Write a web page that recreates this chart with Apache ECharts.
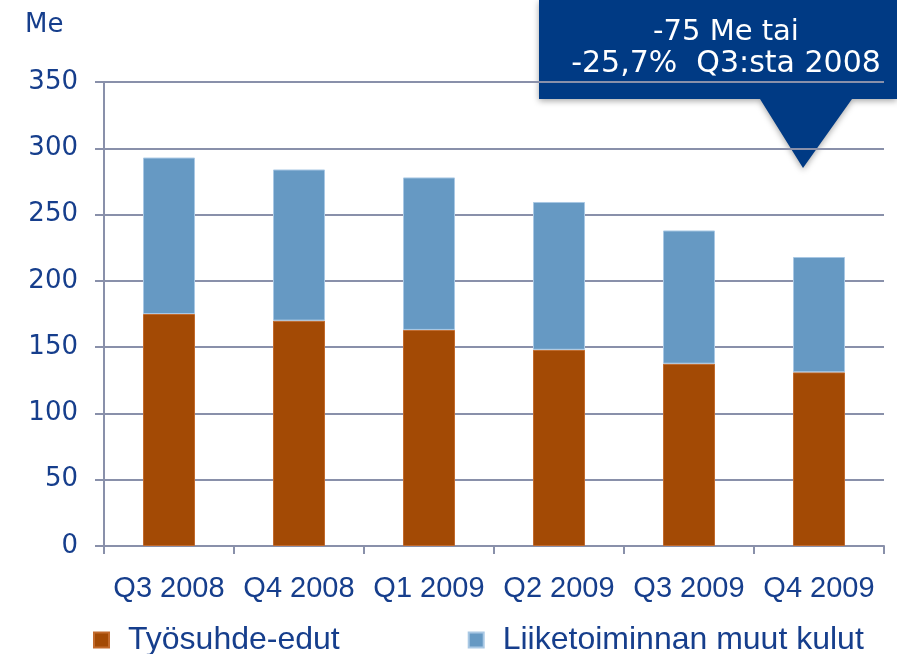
<!DOCTYPE html>
<html>
<head>
<meta charset="utf-8">
<script src="https://cdn.jsdelivr.net/npm/echarts@6/dist/echarts.min.js"></script>
<style>
  html, body { margin: 0; padding: 0; background: #fff; }
  #root { width: 897px; height: 654px; }
</style>
</head>
<body>
<div id="root"></div>
<script>
  // data
  const quarters = ['Q3 2008', 'Q4 2008', 'Q1 2009', 'Q2 2009', 'Q3 2009', 'Q4 2009']
  const tyosuhde = [175, 170, 163, 148, 137.5, 131]
  const muutKulut = [118, 114, 115, 111.5, 100.5, 87]
  const yTicks = { min: 0, max: 350, interval: 50 }
  const calloutLines = ['-75 Me tai', '-25,7%  Q3:sta 2008']

  const navy = '#163e8c'
  const gridCol = '#8990aa'

  const chart = echarts.init(document.getElementById('root'))

  const option = {
    animation: false,
    title: {
      text: 'Me',
      left: 20,
      top: 7,
      textStyle: { color: navy, fontFamily: 'DejaVu Sans', fontSize: 26, fontWeight: 'normal' }
    },
    grid: { left: 104, right: 13, top: 82, bottom: 108 },
    legend: {
      left: 88,
      top: 619,
      icon: 'rect',
      itemWidth: 15,
      itemHeight: 15,
      itemGap: 128,
      textStyle: { color: navy, fontFamily: 'Liberation Sans', fontSize: 32, padding: [0, 0, 0, 14] },
      data: ['Työsuhde-edut', 'Liiketoiminnan muut kulut']
    },
    xAxis: {
      type: 'category',
      data: quarters,
      axisLine: { lineStyle: { color: gridCol, width: 2 } },
      axisTick: { show: true, interval: 0, length: 8, lineStyle: { color: gridCol, width: 2 } },
      axisLabel: { interval: 0, color: navy, fontFamily: 'Liberation Sans', fontSize: 29, margin: 28 }
    },
    yAxis: {
      type: 'value',
      min: yTicks.min,
      max: yTicks.max,
      interval: yTicks.interval,
      axisLine: { show: true, lineStyle: { color: gridCol, width: 2 } },
      axisTick: { show: true, length: 9, lineStyle: { color: gridCol, width: 2 } },
      splitLine: { lineStyle: { color: gridCol, width: 2 } },
      axisLabel: { color: navy, fontFamily: 'DejaVu Sans', fontSize: 26, margin: 26 }
    },
    series: [
      {
        name: 'Työsuhde-edut',
        type: 'bar',
        stack: 'kulut',
        barWidth: 52,
        data: tyosuhde,
        itemStyle: { color: '#a34a05', borderColor: '#c26a2c', borderWidth: 1 }
      },
      {
        name: 'Liiketoiminnan muut kulut',
        type: 'bar',
        stack: 'kulut',
        barWidth: 52,
        data: muutKulut,
        itemStyle: { color: '#6699c3', borderColor: '#a9c8e4', borderWidth: 1 }
      }
    ],
    // callout box sits under the grid lines
    graphic: [
      {
        type: 'polygon',
        z: -1,
        shape: { points: [[539, 0], [897, 0], [897, 99], [852, 99], [803, 168], [760, 99], [539, 99]] },
        style: { fill: '#003a84', shadowBlur: 6, shadowColor: 'rgba(0,0,0,0.35)', shadowOffsetY: 2 }
      },
      {
        type: 'text',
        z: -1,
        x: 726, y: 32,
        style: { text: calloutLines[0], fill: '#fff', font: '29px "DejaVu Sans"', align: 'center', verticalAlign: 'middle' }
      },
      {
        type: 'text',
        z: -1,
        x: 726, y: 64,
        style: { text: calloutLines[1], fill: '#fff', font: '30px "DejaVu Sans"', align: 'center', verticalAlign: 'middle' }
      }
    ]
  }

  chart.setOption(option)
</script>
</body>
</html>
